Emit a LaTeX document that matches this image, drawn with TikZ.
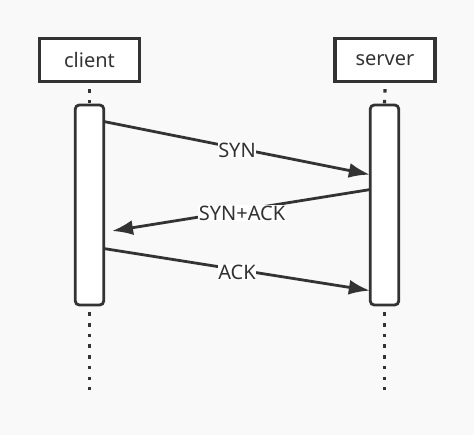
\documentclass[tikz,border=0pt]{standalone}
\usepackage{fontspec}
\setmainfont{Noto Sans}
\usetikzlibrary{arrows.meta}
\usetikzlibrary{calc}
\definecolor{ink}{HTML}{333333}
\definecolor{paper}{HTML}{F9F9F9}

\begin{document}
\begin{tikzpicture}[x=1pt,y=-1pt,
	actor/.style={draw=ink,line width=3.4pt,fill=white,minimum width=100pt,minimum height=43pt,inner sep=0pt,font=\fontsize{20}{24}\selectfont,text=ink},
	bar/.style={draw=ink,line width=2.8pt,fill=white,rounded corners=4pt,minimum width=28.5pt,minimum height=200pt,inner sep=0pt},
	life/.style={draw=ink,line width=3.2pt,dash pattern=on 3.5pt off 7.2pt},
	msg/.style={draw=ink,line width=2.8pt,-{Latex[length=21pt,width=15pt]}},
	lbl/.style={fill=white,inner sep=0.5pt,font=\fontsize{20}{24}\selectfont,text=ink}]
	\useasboundingbox[fill=paper] (0,0) rectangle (474,435);

	\begin{scope}
	\node[actor] (client) at (89.5,60) {client};
	\node[actor] (server) at (385,60) {server};

	\node[bar] (clientBar) at (89.5,205) {};
	\node[bar] (serverBar) at (384.5,205) {};

	\coordinate (clientEnd) at (89.5,390);
	\coordinate (serverEnd) at (384.5,390);

	\draw[life] (client.south) ++(0,6) -- (clientBar.north);
	\draw[life] (server.south) ++(0,6) -- (serverBar.north);
	\draw[life] ($(clientBar.south)+(0,6)$) -- (clientEnd);
	\draw[life] ($(serverBar.south)+(0,6)$) -- (serverEnd);
	\end{scope}

	\coordinate (syn1) at ($(clientBar.north east)+(-1,18)$);
	\coordinate (syn2) at ($(serverBar.north west)+(1,71)$);
	\coordinate (sa1) at ($(serverBar.north west)+(1,86)$);
	\coordinate (sa2) at (112,231);
	\coordinate (ack1) at ($(clientBar.north east)+(-1,145)$);
	\coordinate (ack2) at ($(serverBar.north west)+(1,187)$);

	\draw[msg] (syn1) -- (syn2);
	\draw[msg] (sa1) -- (sa2);
	\draw[msg] (ack1) -- (ack2);

	\node[lbl] (synText) at (237,150) {SYN};
	\node[lbl] (saText) at (242,213) {SYN+ACK};
	\node[lbl] (ackText) at (237,272) {ACK};
\end{tikzpicture}
\end{document}
